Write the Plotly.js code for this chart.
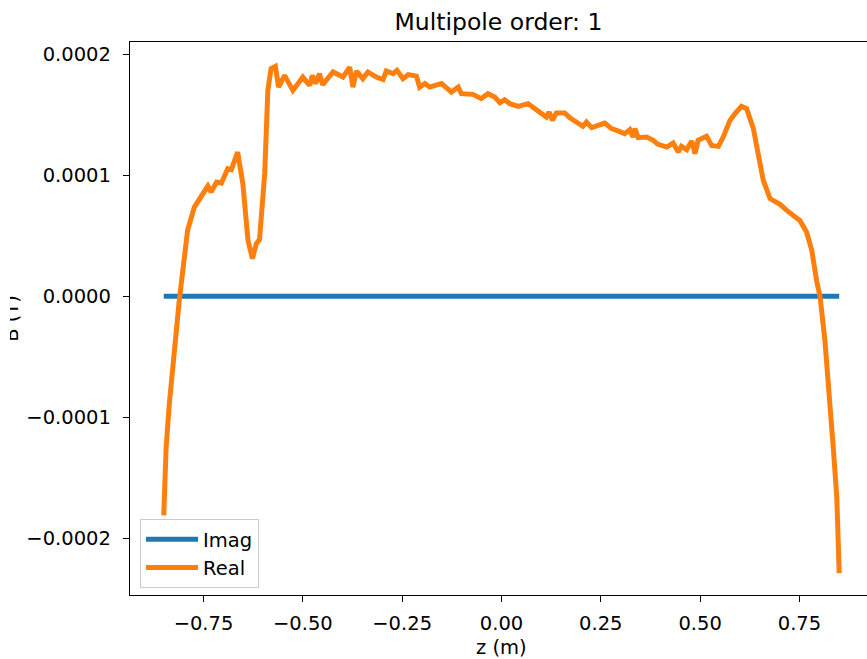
<!DOCTYPE html>
<html>
<head>
<meta charset="utf-8">
<script src="https://cdn.plot.ly/plotly-3.0.1.min.js"></script>
<style>
  html, body { margin: 0; padding: 0; background: #ffffff; }
  #chart { width: 867px; height: 659px; clip-path: inset(0 0 0 10px); }
</style>
</head>
<body>
<div id="chart"></div>
<script>
// Longitudinal coordinate z (m) for the real part of the multipole
const zReal = [
  -0.850, -0.844, -0.836, -0.823, -0.811, -0.802, -0.790, -0.773, -0.764, -0.739,
  -0.731, -0.717, -0.705, -0.689, -0.680, -0.664, -0.651, -0.638, -0.627, -0.617,
  -0.609, -0.596, -0.588, -0.580, -0.569, -0.561, -0.546, -0.525, -0.500, -0.483,
  -0.476, -0.468, -0.458, -0.450, -0.424, -0.399, -0.382, -0.374, -0.365, -0.349,
  -0.336, -0.315, -0.298, -0.290, -0.273, -0.263, -0.248, -0.235, -0.214, -0.206,
  -0.193, -0.181, -0.151, -0.126, -0.109, -0.101, -0.072, -0.051, -0.034, -0.017,
  -0.004, 0.008, 0.021, 0.042, 0.067, 0.096, 0.113, 0.120, 0.128, 0.138,
  0.159, 0.172, 0.189, 0.205, 0.214, 0.227, 0.260, 0.277, 0.290, 0.310,
  0.323, 0.331, 0.336, 0.344, 0.365, 0.382, 0.394, 0.416, 0.432, 0.445,
  0.453, 0.466, 0.479, 0.487, 0.495, 0.516, 0.529, 0.546, 0.558, 0.575,
  0.588, 0.604, 0.617, 0.634, 0.646, 0.659, 0.676, 0.701, 0.718, 0.734,
  0.751, 0.768, 0.781, 0.793, 0.802, 0.814, 0.825, 0.835, 0.844, 0.850
];
// Real part of the field (T)
const bReal = [
  -1.811e-4, -1.246e-4, -0.887e-4, -0.419e-4, -0.033e-4, 0.215e-4, 0.546e-4, 0.738e-4, 0.780e-4, 0.912e-4,
  0.862e-4, 0.945e-4, 0.937e-4, 1.056e-4, 1.048e-4, 1.193e-4, 0.932e-4, 0.463e-4, 0.312e-4, 0.436e-4,
  0.469e-4, 1.014e-4, 1.703e-4, 1.883e-4, 1.902e-4, 1.730e-4, 1.827e-4, 1.703e-4, 1.813e-4, 1.745e-4,
  1.827e-4, 1.759e-4, 1.841e-4, 1.750e-4, 1.855e-4, 1.813e-4, 1.896e-4, 1.730e-4, 1.863e-4, 1.800e-4,
  1.855e-4, 1.813e-4, 1.792e-4, 1.863e-4, 1.841e-4, 1.869e-4, 1.800e-4, 1.833e-4, 1.821e-4, 1.730e-4,
  1.759e-4, 1.730e-4, 1.759e-4, 1.689e-4, 1.730e-4, 1.676e-4, 1.670e-4, 1.635e-4, 1.676e-4, 1.648e-4,
  1.601e-4, 1.626e-4, 1.593e-4, 1.571e-4, 1.593e-4, 1.524e-4, 1.482e-4, 1.524e-4, 1.455e-4, 1.516e-4,
  1.516e-4, 1.477e-4, 1.441e-4, 1.406e-4, 1.441e-4, 1.395e-4, 1.433e-4, 1.387e-4, 1.372e-4, 1.345e-4,
  1.378e-4, 1.317e-4, 1.387e-4, 1.312e-4, 1.317e-4, 1.290e-4, 1.257e-4, 1.234e-4, 1.267e-4, 1.193e-4,
  1.240e-4, 1.213e-4, 1.284e-4, 1.180e-4, 1.290e-4, 1.323e-4, 1.248e-4, 1.240e-4, 1.317e-4, 1.455e-4,
  1.511e-4, 1.571e-4, 1.552e-4, 1.387e-4, 1.180e-4, 0.959e-4, 0.808e-4, 0.761e-4, 0.711e-4, 0.670e-4,
  0.628e-4, 0.532e-4, 0.380e-4, 0.132e-4, -0.006e-4, -0.364e-4, -0.777e-4, -1.246e-4, -1.659e-4, -2.288e-4
];
// Imaginary part: zero along the whole length
const zImag = [-0.85, 0.85];
const bImag = [0, 0];

const seriesNames = ['Imag', 'Real'];
const xTickVals = [-0.75, -0.5, -0.25, 0, 0.25, 0.5, 0.75];
const xTickText = ['\u22120.75', '\u22120.50', '\u22120.25', '0.00', '0.25', '0.50', '0.75'];
const yTickVals = [-0.0002, -0.0001, 0, 0.0001, 0.0002];
const yTickText = ['\u22120.0002', '\u22120.0001', '0.0000', '0.0001', '0.0002'];

const FONT = 'DejaVu Sans, Liberation Sans, sans-serif';

const traces = [
  { x: zImag, y: bImag, name: seriesNames[0], type: 'scatter', mode: 'lines',
    line: { color: '#1f77b4', width: 5 } },
  { x: zReal, y: bReal, name: seriesNames[1], type: 'scatter', mode: 'lines',
    line: { color: '#ff7f0e', width: 5 } }
];

const axisCommon = {
  showgrid: false, zeroline: false, showline: true, linecolor: '#000000', linewidth: 1.2,
  ticks: 'outside', ticklen: 6, tickwidth: 1.2, tickcolor: '#000000',
  tickfont: { family: FONT, size: 19.5, color: '#000000' }, automargin: false
};

const layout = {
  width: 867, height: 659,
  paper_bgcolor: '#ffffff', plot_bgcolor: '#ffffff',
  margin: { l: 130, r: 0, t: 42, b: 64, pad: 0 },
  font: { family: FONT, color: '#000000' },
  title: { text: 'Multipole order: 1', font: { family: FONT, size: 23.5, color: '#000000' },
           x: 0.5, xref: 'paper', xanchor: 'center', y: 1, yref: 'paper', yanchor: 'bottom',
           pad: { b: 12 } },
  xaxis: Object.assign({}, axisCommon, {
    range: [-0.935, 0.920], tickmode: 'array', tickvals: xTickVals, ticktext: xTickText,
    mirror: true, ticklabelstandoff: 4
  }),
  yaxis: Object.assign({}, axisCommon, {
    range: [-2.469e-4, 2.103e-4], tickmode: 'array', tickvals: yTickVals, ticktext: yTickText,
    mirror: false, ticklabelstandoff: 8,
    title: { text: 'B (T)', font: { family: FONT, size: 19.5, color: '#000000' }, standoff: 62 }
  }),
  annotations: [
    { text: 'z (m)', xref: 'paper', yref: 'paper', x: 0.504, y: -0.0958,
      xanchor: 'center', yanchor: 'middle', showarrow: false, borderpad: 0,
      font: { family: FONT, size: 19.5, color: '#000000' } }
  ],
  showlegend: true,
  legend: {
    x: 0.0136, y: 0.0127, xanchor: 'left', yanchor: 'bottom',
    bgcolor: 'rgba(255,255,255,0.8)', bordercolor: '#cccccc', borderwidth: 1,
    font: { family: FONT, size: 19.5, color: '#000000' }, itemwidth: 52,
    entrywidth: 72, entrywidthmode: 'pixels'
  }
};

Plotly.newPlot('chart', traces, layout, { staticPlot: true, displayModeBar: false });
</script>
</body>
</html>
